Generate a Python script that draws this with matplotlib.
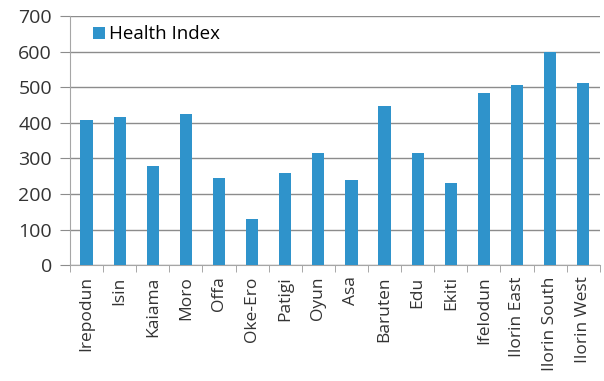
import numpy as np
import matplotlib.pyplot as plt

plt.rcParams["font.family"] = ["Open Sans", "DejaVu Sans"]

districts = ["Irepodun", "Isin", "Kaiama", "Moro", "Offa", "Oke-Ero", "Patigi",
             "Oyun", "Asa", "Baruten", "Edu", "Ekiti", "Ifelodun",
             "Ilorin East", "Ilorin South", "Ilorin West"]
health_index = [407, 417, 279, 426, 246, 131, 259,
                314, 240, 447, 314, 231, 485, 505, 600, 512]

fig = plt.figure(figsize=(6.04, 3.81), dpi=100)
ax = fig.add_axes([0.116, 0.304, 0.877, 0.654])

x = np.arange(len(districts))
ax.bar(x, health_index, width=0.37, color="#2f93cb", label="Health Index", zorder=3)

ax.set_ylim(0, 700)
ax.set_yticks(range(0, 701, 100))
ax.set_xlim(-0.5, len(districts) - 0.5)
ax.set_xticks(x)
ax.set_xticklabels(districts, rotation=90, fontsize=12.5, color="#333333")
ax.set_xticks(np.arange(-0.5, len(districts), 1), minor=True)
ax.tick_params(axis="x", which="major", length=0, pad=8)
ax.tick_params(axis="x", which="minor", length=5, color="#999999", direction="out")
ax.tick_params(axis="y", length=7, color="#8c8c8c", labelsize=14,
               labelcolor="#333333", pad=6)

ax.yaxis.grid(True, color="#8c8c8c", linewidth=1, zorder=0)
for s in ["top", "right"]:
    ax.spines[s].set_visible(False)
ax.spines["left"].set_color("#a6a6a6")
ax.spines["bottom"].set_color("#a6a6a6")

ax.legend(loc="upper left", frameon=False, fontsize=13.5, handlelength=0.65,
          handleheight=0.65, handletextpad=0.2, borderaxespad=0.1,
          bbox_to_anchor=(0.025, 1.0))

fig.savefig("out.png", dpi=100)
